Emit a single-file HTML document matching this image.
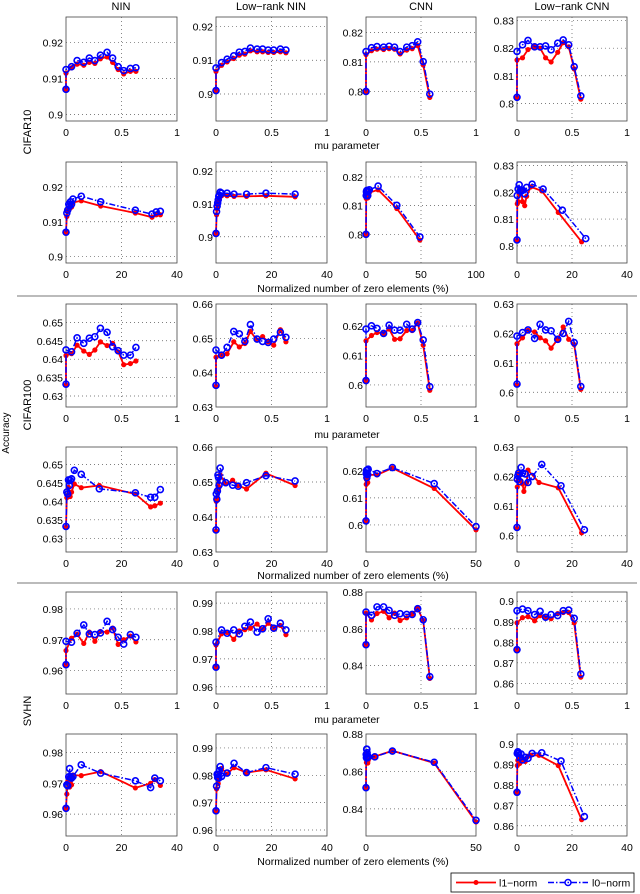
<!DOCTYPE html>
<html><head><meta charset="utf-8">
<style>
html,body{margin:0;padding:0;background:#fff;}
svg{display:block;font-family:"Liberation Sans",Arial,sans-serif;}
</style></head>
<body>
<svg id="fig" width="640" height="894" viewBox="0 0 640 894" xmlns="http://www.w3.org/2000/svg">
<text x="121" y="10" text-anchor="middle" font-size="11">NIN</text>
<text x="271" y="10" text-anchor="middle" font-size="11">Low−rank NIN</text>
<text x="421" y="10" text-anchor="middle" font-size="11">CNN</text>
<text x="572" y="10" text-anchor="middle" font-size="11">Low−rank CNN</text>
<text transform="translate(31,132) rotate(-90)" text-anchor="middle" font-size="11">CIFAR10</text>
<text transform="translate(31,405) rotate(-90)" text-anchor="middle" font-size="11">CIFAR100</text>
<text transform="translate(31,711) rotate(-90)" text-anchor="middle" font-size="11">SVHN</text>
<text transform="translate(9,433) rotate(-90)" text-anchor="middle" font-size="10">Accuracy</text>
<line x1="17" y1="296" x2="637" y2="296" stroke="#777" stroke-width="1"/>
<line x1="17" y1="583" x2="637" y2="583" stroke="#777" stroke-width="1"/>
<text x="347" y="149" text-anchor="middle" font-size="10.5">mu parameter</text>
<text x="353" y="292" text-anchor="middle" font-size="10.5">Normalized number of zero elements (%)</text>
<text x="347" y="438" text-anchor="middle" font-size="10.5">mu parameter</text>
<text x="353" y="579" text-anchor="middle" font-size="10.5">Normalized number of zero elements (%)</text>
<text x="347" y="723" text-anchor="middle" font-size="10.5">mu parameter</text>
<text x="353" y="865" text-anchor="middle" font-size="10.5">Normalized number of zero elements (%)</text>
<g>
<rect x="451" y="873" width="183" height="19" fill="#fff" stroke="#000" stroke-width="0.8"/>
<g>
<line x1="456" y1="882.5" x2="496" y2="882.5" stroke="#f00" stroke-width="1.8"/>
<circle cx="476" cy="882.5" r="2.5" fill="#f00"/>
<text x="499" y="886.5" font-size="10.5">l1−norm</text>
</g>
<g>
<line x1="548" y1="882.5" x2="588" y2="882.5" stroke="#00f" stroke-width="1.5" stroke-dasharray="6,2,1.5,2"/>
<circle cx="568" cy="882.5" r="3" fill="none" stroke="#00f" stroke-width="1.5"/>
<text x="592" y="886.5" font-size="10.5">l0−norm</text>
</g>
</g>
</svg>
<script>
// mu values
const muNIN = [0,0,0.05,0.1,0.16,0.21,0.26,0.31,0.37,0.42,0.47,0.52,0.58,0.63];
const muCNN = [0,0,0.05,0.1,0.16,0.21,0.26,0.31,0.37,0.42,0.47,0.52,0.58];
// CIFAR10
const c10_nin_l1 = [0.907,0.9115,0.913,0.914,0.9137,0.9145,0.9142,0.9155,0.916,0.9145,0.9125,0.9113,0.912,0.912];
const c10_nin_l0 = [0.907,0.9125,0.9133,0.915,0.9145,0.9157,0.915,0.9165,0.9173,0.9157,0.9133,0.9122,0.9128,0.913];
const c10_nin_sp = [0,0.3,0.6,1,1.3,1.6,2,2.5,5.5,12.5,25,31,32.5,34];
const c10_lrnin_l1 = [0.901,0.9067,0.9085,0.9095,0.9105,0.9115,0.9118,0.9128,0.9125,0.9125,0.9123,0.9123,0.9125,0.9122];
const c10_lrnin_l0 = [0.901,0.9077,0.9093,0.9103,0.9113,0.9124,0.9126,0.9136,0.9133,0.9133,0.913,0.913,0.9133,0.913];
const c10_lrnin_sp = [0,0.2,0.4,0.6,0.8,1,1.2,1.5,2,4,6.5,11,18,28.5];
const c10_cnn_l1 = [0.80,0.8125,0.8138,0.8143,0.8142,0.8145,0.8143,0.8127,0.814,0.8145,0.8155,0.809,0.798];
const c10_cnn_l0 = [0.80,0.8135,0.8148,0.8152,0.815,0.8153,0.815,0.8135,0.815,0.8155,0.8168,0.8101,0.7991];
const c10_cnn_sp = [0,0.2,0.4,0.6,0.8,1,1.3,1.6,2,3,11,28,49];
const c10_lrcnn_l1 = [0.802,0.8157,0.8165,0.8195,0.8205,0.82,0.8165,0.815,0.8185,0.822,0.8205,0.8125,0.8015];
const c10_lrcnn_l0 = [0.8022,0.8188,0.8212,0.8228,0.8205,0.8205,0.8208,0.8194,0.8218,0.823,0.8212,0.8133,0.8027];
const c10_lrcnn_sp1 = [0,0.1,0.4,0.8,1.2,1.6,2,2.8,3.5,5,9,15,23.5];
const c10_lrcnn_sp0 = [0,0.1,0.4,0.8,1.2,1.6,2,2.8,3.5,5.5,9.5,16.5,25];
// CIFAR100
const c100_nin_l1 = [0.633,0.641,0.6415,0.6438,0.6422,0.6413,0.6425,0.6447,0.6437,0.6443,0.642,0.6385,0.6388,0.6395];
const c100_nin_l0 = [0.6332,0.6425,0.642,0.6458,0.6443,0.6457,0.6461,0.6484,0.6473,0.6434,0.6423,0.6411,0.6411,0.6432];
const c100_nin_sp = [0,0.3,0.6,0.9,1.2,1.5,2,3,5.5,12,25,30.5,32,34];
const c100_lrnin_l1 = [0.636,0.6445,0.645,0.6455,0.649,0.6475,0.6485,0.652,0.6495,0.6505,0.649,0.648,0.6525,0.649];
const c100_lrnin_l0 = [0.6363,0.6466,0.6451,0.6474,0.652,0.6513,0.6491,0.654,0.6498,0.6491,0.6488,0.6498,0.6518,0.6503];
const c100_lrnin_sp = [0,0.1,0.3,0.5,0.7,0.9,1.1,1.5,3.5,6,8,11,18,28.5];
const c100_cnn_l1 = [0.6015,0.615,0.6168,0.6178,0.6175,0.619,0.6155,0.6157,0.6185,0.6185,0.621,0.6135,0.5982];
const c100_cnn_l0 = [0.6015,0.619,0.6201,0.6192,0.6175,0.6203,0.6186,0.6186,0.6206,0.619,0.6212,0.6153,0.5994];
const c100_cnn_sp = [0,0.1,0.2,0.3,0.4,0.5,0.6,0.8,1,5,12,31,50];
const c100_lrcnn_l1 = [0.6025,0.6165,0.6185,0.621,0.6205,0.6185,0.6175,0.615,0.618,0.6222,0.618,0.6162,0.601];
const c100_lrcnn_l0 = [0.6028,0.6191,0.6203,0.6212,0.6183,0.6231,0.6212,0.6209,0.618,0.62,0.6241,0.6169,0.602];
const c100_lrcnn_sp1 = [0,0.1,0.3,0.6,1,1.5,2,2.5,3.5,4,8,15,23.5];
const c100_lrcnn_sp0 = [0,0.1,0.3,0.6,1,1.5,2,3,4,5.5,9,16,24.5];
// SVHN
const svhn_nin_l1 = [0.9619,0.9665,0.9705,0.9718,0.9688,0.9725,0.9695,0.9727,0.9725,0.9738,0.9685,0.97,0.9712,0.9693];
const svhn_nin_l0 = [0.9619,0.9695,0.9692,0.9721,0.9748,0.9719,0.9717,0.9722,0.976,0.9733,0.9708,0.9686,0.9717,0.9708];
const svhn_nin_sp = [0,0.3,0.6,1,1.3,1.6,2,2.5,5.5,12.5,25,30.5,32,34];
const svhn_lrnin_l1 = [0.967,0.975,0.979,0.9795,0.977,0.98,0.9805,0.981,0.9825,0.9805,0.9828,0.981,0.982,0.9787];
const svhn_lrnin_l0 = [0.967,0.976,0.9804,0.9792,0.9804,0.979,0.9817,0.9832,0.9796,0.9808,0.9844,0.981,0.9828,0.9804];
const svhn_lrnin_sp = [0,0.2,0.4,0.6,0.8,1,1.2,1.5,2,4,6.5,11,18,28.5];
const svhn_cnn_l1 = [0.8513,0.8685,0.8648,0.8683,0.8695,0.866,0.8685,0.8645,0.866,0.868,0.871,0.8645,0.833];
const svhn_cnn_l0 = [0.8513,0.8691,0.8673,0.8719,0.8719,0.87,0.8673,0.8682,0.8678,0.8678,0.8709,0.8649,0.8339];
const svhn_cnn_sp = [0,0.1,0.2,0.3,0.4,0.5,0.6,0.8,1,4,12,31,50];
const svhn_lrcnn_l1 = [0.8764,0.8895,0.892,0.8925,0.8905,0.893,0.892,0.8915,0.894,0.8945,0.8945,0.8895,0.863];
const svhn_lrcnn_l0 = [0.8764,0.8954,0.8962,0.8954,0.8935,0.8951,0.8922,0.8935,0.893,0.8954,0.8957,0.8917,0.8645];
const svhn_lrcnn_sp1 = [0,0.1,0.3,0.6,1,1.5,2,3,4,5,8,15,23.5];
const svhn_lrcnn_sp0 = [0,0.1,0.3,0.6,1,1.5,2,3,4,5.5,9,16,24.5];
// tick labels
const muTicks = [0,0.5,1];
const spTicks40 = [0,20,40];
const spTicks100 = [0,50,100];
const spTicks50 = [0,50];
const yT_c10_nin = [0.9,0.91,0.92];
const yT_c10_cnn = [0.8,0.81,0.82];
const yT_c10_lrcnn = [0.8,0.81,0.82,0.83];
const yT_c100_nin = [0.63,0.635,0.64,0.645,0.65];
const yT_c100_lrnin = [0.63,0.64,0.65,0.66];
const yT_c100_cnn = [0.6,0.61,0.62];
const yT_c100_lrcnn = [0.6,0.61,0.62,0.63];
const yT_svhn_nin = [0.96,0.97,0.98];
const yT_svhn_lrnin = [0.96,0.97,0.98,0.99];
const yT_svhn_cnn = [0.84,0.86,0.88];
const yT_svhn_lrcnn = [0.86,0.87,0.88,0.89,0.9];

const NS = 'http://www.w3.org/2000/svg';
const svg = document.getElementById('fig');
const cols = [[66,177],[216,327],[366,476],[517,627]];
const rows = [[17,121],[162,263],[304,407],[447,552],[592,694],[734,836]];

function mk(tag, attrs, parent){
  const e = document.createElementNS(NS, tag);
  for (const k in attrs) e.setAttribute(k, attrs[k]);
  (parent||svg).appendChild(e);
  return e;
}
function fmt(v){ return String(v); }

function panel(name, r, c, xr, yr, xt, yt, x1, y1, x0, y0){
  const [L,R] = cols[c], [T,B] = rows[r];
  const sx = v => L + (v - xr[0])/(xr[1]-xr[0])*(R-L);
  const sy = v => B - (v - yr[0])/(yr[1]-yr[0])*(B-T);
  const g = mk('g', {});
  
  
  mk('rect', {x:L, y:T, width:R-L, height:B-T, fill:'#fff', stroke:'none'}, g);
  xt.forEach(v => {
    const X = sx(v);
    if (X > L+1 && X < R-1) mk('line', {x1:X, y1:T, x2:X, y2:B, stroke:'#555', 'stroke-width':0.7, 'stroke-dasharray':'1,3'}, g);
    const t = mk('text', {x:X, y:B+15, 'text-anchor':'middle', 'font-size':10.5}, g);
    t.textContent = fmt(v);
    
    
  });
  yt.forEach(v => {
    const Y = sy(v);
    if (Y > T+1 && Y < B-1) mk('line', {x1:L, y1:Y, x2:R, y2:Y, stroke:'#555', 'stroke-width':0.7, 'stroke-dasharray':'1,3'}, g);
    const t = mk('text', {x:L-3, y:Y+4, 'text-anchor':'end', 'font-size':10.5}, g);
    t.textContent = fmt(v);
    
    
  });
  mk('rect', {x:L, y:T, width:R-L, height:B-T, fill:'none', stroke:'#444', 'stroke-width':0.8}, g);
  const p1 = x1.map((v,i) => sx(v).toFixed(1)+','+sy(y1[i]).toFixed(1)).join(' ');
  const l1 = mk('polyline', {points:p1, fill:'none', stroke:'#f00', 'stroke-width':1.8, 'stroke-linejoin':'round'}, g);
  
  
  x1.forEach((v,i) => {
    const m = mk('circle', {cx:sx(v), cy:sy(y1[i]), r:2.6, fill:'#f00'}, g);
    
    
  });
  const p0 = x0.map((v,i) => sx(v).toFixed(1)+','+sy(y0[i]).toFixed(1)).join(' ');
  const l0 = mk('polyline', {points:p0, fill:'none', stroke:'#00f', 'stroke-width':1.5, 'stroke-dasharray':'6,2,1.5,2'}, g);
  
  
  x0.forEach((v,i) => {
    const m = mk('circle', {cx:sx(v), cy:sy(y0[i]), r:3, fill:'none', stroke:'#00f', 'stroke-width':1.6}, g);
    
    
  });
}

// CIFAR10
panel('cifar10-nin-mu',0,0,[0,1],[0.8982,0.9271],muTicks,yT_c10_nin,muNIN,c10_nin_l1,muNIN,c10_nin_l0);
panel('cifar10-lrnin-mu',0,1,[0,1],[0.892,0.9228],muTicks,yT_c10_nin,muNIN,c10_lrnin_l1,muNIN,c10_lrnin_l0);
panel('cifar10-cnn-mu',0,2,[0,1],[0.790,0.8252],muTicks,yT_c10_cnn,muCNN,c10_cnn_l1,muCNN,c10_cnn_l0);
panel('cifar10-lrcnn-mu',0,3,[0,1],[0.7936,0.8313],muTicks,yT_c10_lrcnn,muCNN,c10_lrcnn_l1,muCNN,c10_lrcnn_l0);
panel('cifar10-nin-sparsity',1,0,[0,40],[0.8982,0.9271],spTicks40,yT_c10_nin,c10_nin_sp,c10_nin_l1,c10_nin_sp,c10_nin_l0);
panel('cifar10-lrnin-sparsity',1,1,[0,40],[0.892,0.9228],spTicks40,yT_c10_nin,c10_lrnin_sp,c10_lrnin_l1,c10_lrnin_sp,c10_lrnin_l0);
panel('cifar10-cnn-sparsity',1,2,[0,100],[0.790,0.8252],spTicks100,yT_c10_cnn,c10_cnn_sp,c10_cnn_l1,c10_cnn_sp,c10_cnn_l0);
panel('cifar10-lrcnn-sparsity',1,3,[0,40],[0.7936,0.8313],spTicks40,yT_c10_lrcnn,c10_lrcnn_sp1,c10_lrcnn_l1,c10_lrcnn_sp0,c10_lrcnn_l0);
// CIFAR100
panel('cifar100-nin-mu',2,0,[0,1],[0.627,0.655],muTicks,yT_c100_nin,muNIN,c100_nin_l1,muNIN,c100_nin_l0);
panel('cifar100-lrnin-mu',2,1,[0,1],[0.63,0.66],muTicks,yT_c100_lrnin,muNIN,c100_lrnin_l1,muNIN,c100_lrnin_l0);
panel('cifar100-cnn-mu',2,2,[0,1],[0.5925,0.6275],muTicks,yT_c100_cnn,muCNN,c100_cnn_l1,muCNN,c100_cnn_l0);
panel('cifar100-lrcnn-mu',2,3,[0,1],[0.595,0.63],muTicks,yT_c100_lrcnn,muCNN,c100_lrcnn_l1,muCNN,c100_lrcnn_l0);
panel('cifar100-nin-sparsity',3,0,[0,40],[0.6263,0.6547],spTicks40,yT_c100_nin,c100_nin_sp,c100_nin_l1,c100_nin_sp,c100_nin_l0);
panel('cifar100-lrnin-sparsity',3,1,[0,40],[0.63,0.66],spTicks40,yT_c100_lrnin,c100_lrnin_sp,c100_lrnin_l1,c100_lrnin_sp,c100_lrnin_l0);
panel('cifar100-cnn-sparsity',3,2,[0,50],[0.59,0.6288],spTicks50,yT_c100_cnn,c100_cnn_sp,c100_cnn_l1,c100_cnn_sp,c100_cnn_l0);
panel('cifar100-lrcnn-sparsity',3,3,[0,40],[0.5945,0.63],spTicks40,yT_c100_lrcnn,c100_lrcnn_sp1,c100_lrcnn_l1,c100_lrcnn_sp0,c100_lrcnn_l0);
// SVHN
panel('svhn-nin-mu',4,0,[0,1],[0.9524,0.9855],muTicks,yT_svhn_nin,muNIN,svhn_nin_l1,muNIN,svhn_nin_l0);
panel('svhn-lrnin-mu',4,1,[0,1],[0.9574,0.994],muTicks,yT_svhn_lrnin,muNIN,svhn_lrnin_l1,muNIN,svhn_lrnin_l0);
panel('svhn-cnn-mu',4,2,[0,1],[0.8245,0.88],muTicks,yT_svhn_cnn,muCNN,svhn_cnn_l1,muCNN,svhn_cnn_l0);
panel('svhn-lrcnn-mu',4,3,[0,1],[0.8548,0.9045],muTicks,yT_svhn_lrcnn,muCNN,svhn_lrcnn_l1,muCNN,svhn_lrcnn_l0);
panel('svhn-nin-sparsity',5,0,[0,40],[0.9529,0.986],spTicks40,yT_svhn_nin,svhn_nin_sp,svhn_nin_l1,svhn_nin_sp,svhn_nin_l0);
panel('svhn-lrnin-sparsity',5,1,[0,40],[0.9578,0.9951],spTicks40,yT_svhn_lrnin,svhn_lrnin_sp,svhn_lrnin_l1,svhn_lrnin_sp,svhn_lrnin_l0);
panel('svhn-cnn-sparsity',5,2,[0,50],[0.8255,0.88],spTicks50,yT_svhn_cnn,svhn_cnn_sp,svhn_cnn_l1,svhn_cnn_sp,svhn_cnn_l0);
panel('svhn-lrcnn-sparsity',5,3,[0,40],[0.855,0.9049],spTicks40,yT_svhn_lrcnn,svhn_lrcnn_sp1,svhn_lrcnn_l1,svhn_lrcnn_sp0,svhn_lrcnn_l0);
</script>
</body></html>
